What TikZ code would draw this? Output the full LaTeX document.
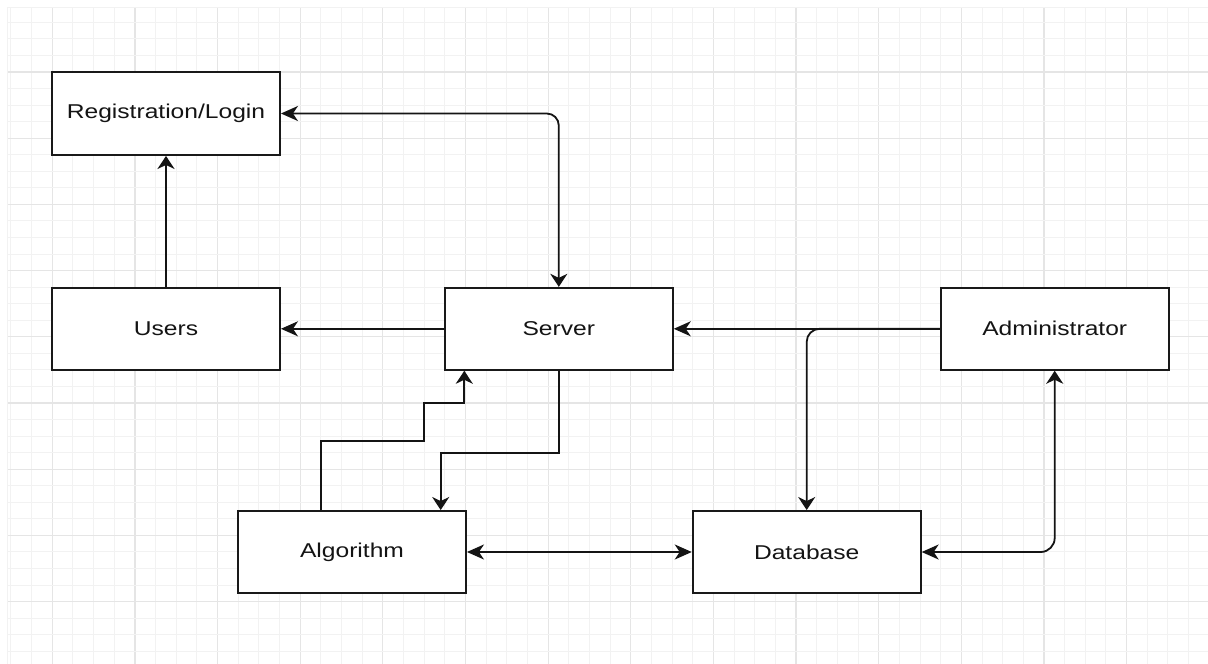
\documentclass[tikz,border=0pt]{standalone}
\usepackage{fontspec}
\setmainfont{Liberation Sans}
\usetikzlibrary{arrows.meta,calc}
\tikzset{
  HT/.tip={Stealth[length=17pt,width=15pt,inset=5pt]},
  VT/.tip={Stealth[length=13pt,width=17pt,inset=4pt]},
  box/.style={draw=black!90, line width=1.9pt, fill=white, rectangle,
              minimum width=228pt, minimum height=82pt, inner sep=0pt, text=black!92},
  link/.style={line width=1.8pt, draw=black!92},
  minorgrid/.style={draw=black!5, line width=1pt},
  majorgrid/.style={draw=black!10, line width=1.2pt}
}
\newcommand{\lbl}[1]{\scalebox{1.23}[1]{\fontsize{20}{24}\selectfont #1}}
\begin{document}
\begin{tikzpicture}[x=1pt,y=-1pt]
\useasboundingbox (0,0) rectangle (1208,664);
\fill[white] (0,0) rectangle (1208,664);
% grid
\begin{scope}
\clip (7,7) rectangle (1208,664);
\foreach \i in {-3,...,56} {
  \pgfmathsetmacro{\xx}{52.3+20.66*\i}
  \pgfmathtruncatemacro{\m}{mod(\i+400,4)}
  \ifnum\m=0
    \draw[majorgrid] (\xx,7) -- (\xx,664);
  \else
    \draw[minorgrid] (\xx,7) -- (\xx,664);
  \fi
}
\foreach \j in {-4,...,36} {
  \pgfmathsetmacro{\yy}{72+16.55*\j}
  \pgfmathtruncatemacro{\m}{mod(\j+400,4)}
  \ifnum\m=0
    \draw[majorgrid] (7,\yy) -- (1208,\yy);
  \else
    \draw[minorgrid] (7,\yy) -- (1208,\yy);
  \fi
}
\draw[minorgrid] (7,7) -- (1208,7);
\draw[minorgrid] (7,7) -- (7,664);
\end{scope}
% nodes
\node[box, minimum height=83pt] (reg) at (166,113.5) {\lbl{Registration/Login}};
\node[box] (users) at (166,328.8) {\lbl{Users}};
\node[box] (server) at (558.8,328.8) {\lbl{Server}};
\node[box] (admin) at (1054.7,328.8) {\lbl{Administrator}};
\node[box] (algo) at (352,552) {\lbl{Algorithm}};
\node[box] (db) at (806.7,552) {\lbl{Database}};
% helper coordinates
\coordinate (s1) at (440.7,452.7);
\coordinate (c0) at (320.7,441);
\coordinate (c1) at (424,441);
\coordinate (c2) at (464.3,403);
% connectors
\draw[link,-VT] (users.north) -- (reg.south);
\draw[link,HT-VT,rounded corners=12pt] (reg.east) -| (server.north);
\draw[link,-HT] (server.west) -- (users.east);
\draw[link,-HT] (admin.west) -- (server.east);
\draw[link,-VT,rounded corners=13pt] (admin.west) -| (db.north);
\draw[link,-VT] (server.south) |- (s1) -- (s1 |- algo.north);
\draw[link,-VT] (algo.north -| c0) -- (c0) -- (c1) |- (c2) -- (c2 |- server.south);
\draw[link,HT-HT] (algo.east) -- (db.west);
\draw[link,HT-VT,rounded corners=14pt] (db.east) -| (admin.south);
\end{tikzpicture}
\end{document}
